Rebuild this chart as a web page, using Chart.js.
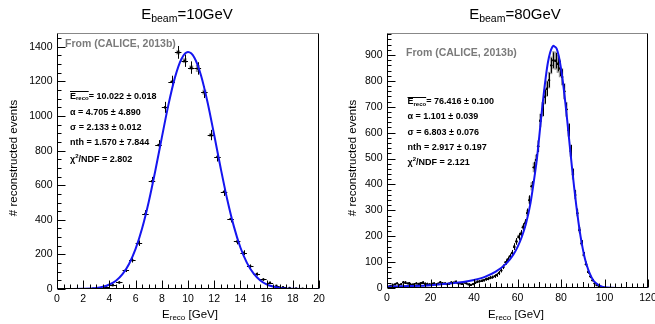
<!DOCTYPE html>
<html>
<head>
<meta charset="utf-8">
<script src="https://cdn.jsdelivr.net/npm/chart.js@4.4.1/dist/chart.umd.min.js"></script>
<style>
  html, body { margin: 0; padding: 0; background: #fff; }
  #wrap { position: relative; width: 655px; height: 324px; overflow: hidden; }
  canvas { position: absolute; top: 0; }
  #c10 { left: 0; }
  #c80 { left: 327px; }
</style>
</head>
<body>
<div id="wrap">
  <canvas id="c10" width="327" height="324"></canvas>
  <canvas id="c80" width="328" height="324"></canvas>
</div>
<script>
// ---- 10 GeV panel ----
const leftCenters = [0.25,0.75,1.25,1.75,2.25,2.75,3.25,3.75,4.25,4.75,5.25,5.75,6.25,6.75,7.25,7.75,
  8.25,8.75,9.25,9.75,10.25,10.75,11.25,11.75,12.25,12.75,13.25,13.75,14.25,14.75,15.25,15.75,
  16.25,16.75,17.25,17.75,18.25,18.75,19.25,19.75];
const leftCounts = [0,0,0,0,0,1,3,10,22,38,108,166,265,435,623,832,
  1050,1198,1368,1320,1280,1275,1138,890,765,562,405,275,210,131,86,55,
  36,18,10,6,3,1,0,0];
const leftErrors = [0,0,0,0,0,1,2,3,5,6,10,13,16,21,25,29,
  32,35,37,36,36,36,34,30,28,24,20,17,14,11,9,7,
  6,4,3,2,2,1,0,0];
const leftSyst = [0,0,0,0,0,0,0,0,0,0,0,0,0,0,0,0,
  0,0,12,14,12,20,14,10,0,0,0,0,0,0,0,0,
  0,0,0,0,0,0,0,0];
const leftFitX = [0,1,2,3,3.5,4,4.5,5,5.5,6,6.5,7,7.5,8,8.5,9,9.5,10,10.5,11,11.5,12,12.5,13,13.5,
  14,14.5,15,15.5,16,16.5,17,18,19,20];
const leftFitY = [0,0.2,1.2,6,13,26,48,86,145,232,351,503,682,875,1063,1222,1330,1370,1336,1233,1077,
  890,697,516,362,240,151,90,51,27,14,6.5,1.2,0.2,0];
const leftXTicks = [0,2,4,6,8,10,12,14,16,18,20];
const leftYTicks = [0,200,400,600,800,1000,1200,1400];
const leftStats = ['= 10.022 \u00b1 0.018', '\u03b1 = 4.705 \u00b1 4.890', '\u03c3 = 2.133 \u00b1 0.012',
  'nth = 1.570 \u00b1 7.844', '/NDF = 2.802'];

// ---- 80 GeV panel ----
const rightCenters = [0.5,1.5,2.5,3.5,4.5,5.5,6.5,7.5,8.5,9.5,10.5,11.5,12.5,13.5,14.5,15.5,16.5,17.5,18.5,19.5,
  20.5,21.5,22.5,23.5,24.5,25.5,26.5,27.5,28.5,29.5,30.5,31.5,32.5,33.5,34.5,35.5,36.5,37.5,38.5,39.5,
  40.5,41.5,42.5,43.5,44.5,45.5,46.5,47.5,48.5,49.5,50.5,51.5,52.5,53.5,54.5,55.5,56.5,57.5,58.5,59.5,
  60.5,61.5,62.5,63.5,64.5,65.5,66.5,67.5,68.5,69.5,70.5,71.5,72.5,73.5,74.5,75.5,76.5,77.5,78.5,79.5,
  80.5,81.5,82.5,83.5,84.5,85.5,86.5,87.5,88.5,89.5,90.5,91.5,92.5,93.5,94.5,95.5,96.5,97.5,98.5,99.5];
const rightCounts = [5,8,10,14,18,12,15,22,21,18, 16,13,15,18,16,19,21,17,16,14,
  16,18,14,17,22,19,18,15,17,21, 20,24,19,18,16,22,18,14,12,15,
  20,24,26,28,30,34,36,40,42,46, 50,58,68,82,100,110,122,135,160,180,
  198,210,235,250,290,340,393,466,495,548, 647,690,739,770,803,860,880,878,866,848,
  816,760,690,610,530,440,360,290,225,172, 128,92,63,45,30,18,11,6,4,2];
const rightErrors = [2,3,3,4,4,3,4,5,5,4, 4,4,4,4,4,4,5,4,4,4,
  4,4,4,4,5,4,4,4,4,5, 4,5,4,4,4,5,4,4,3,4,
  4,5,5,5,5,6,6,6,6,7, 7,8,8,9,10,10,11,12,13,13,
  14,14,15,16,17,18,20,22,22,23, 25,26,27,28,28,29,30,30,29,29,
  29,28,26,25,23,21,19,17,15,13, 11,10,8,7,5,4,3,2,2,1];
const rightSyst = [0,0,0,0,0,0,0,0,0,0, 0,0,0,0,0,0,0,0,0,0,
  0,0,0,0,0,0,0,0,0,0, 0,0,0,0,0,0,0,0,0,0,
  0,0,0,0,0,0,0,0,0,0, 0,0,0,0,0,4,5,5,6,7,
  8,8,9,10,12,14,16,19,20,22, 26,28,30,31,32,34,35,35,35,34,
  33,31,28,25,23,21,17,13,11,8, 6,4,0,0,0,0,0,0,0,0];
const rightFitX = [0,10,20,30,35,40,45,50,55,58,60,62,64,66,68,69,70,71,72,73,74,75,76,76.5,77,78,79,80,
  81,82,83,84,85,86,87,88,89,90,91,92,93,94,95,96,98,100,103,110,120];
const rightFitY = [5,7.4,11,18,23,31,43,63,96,128,158,198,252,329,441,505,585,668,745,815,872,910,931,936,933,
  925,895,848,788,715,636,552,470,392,320,255,199,152,113,84,60,42,28,19,8,3,0.7,0,0];
const rightXTicks = [0,20,40,60,80,100,120];
const rightYTicks = [0,100,200,300,400,500,600,700,800,900];
const rightStats = ['= 76.416 \u00b1 0.100', '\u03b1 = 1.101 \u00b1 0.039', '\u03c3 = 6.803 \u00b1 0.076',
  'nth = 2.917 \u00b1 0.197', '/NDF = 2.121'];

const FONT = '"Liberation Sans", Arial, Helvetica, sans-serif';

function fnt(size, bold) {
  return (bold ? 'bold ' : '') + size + 'px ' + FONT;
}

// draw a run of text pieces (for sub/superscripts); returns start x and width
function rich(ctx, parts, x, y, align) {
  let w = 0;
  parts.forEach(p => { ctx.font = fnt(p.s, p.b); w += ctx.measureText(p.t).width; });
  let cx = align === 'center' ? x - w / 2 : x;
  const x0 = cx;
  parts.forEach(p => {
    ctx.font = fnt(p.s, p.b);
    ctx.fillText(p.t, cx, y + (p.dy || 0));
    cx += ctx.measureText(p.t).width;
  });
  return { x0, w };
}

function rootPlugin(cfg) {
  return {
    id: 'rootFrame',
    beforeDatasetsDraw(chart) {
      const { ctx, chartArea: a, scales: { x, y } } = chart;
      const hw = cfg.binWidth / 2;
      ctx.save();
      ctx.beginPath();
      ctx.rect(a.left, a.top, a.right - a.left, a.bottom - a.top);
      ctx.clip();
      // systematic boxes
      ctx.fillStyle = 'rgba(120,120,120,0.75)';
      cfg.centers.forEach((c, i) => {
        const s = cfg.syst[i];
        if (!s || !cfg.counts[i]) return;
        const x1 = x.getPixelForValue(c - hw * cfg.boxFrac), x2 = x.getPixelForValue(c + hw * cfg.boxFrac);
        const y1 = y.getPixelForValue(cfg.counts[i] + s), y2 = y.getPixelForValue(cfg.counts[i] - s);
        ctx.fillRect(x1, y1, x2 - x1, y2 - y1);
      });
      // error bars
      ctx.strokeStyle = '#000';
      ctx.lineWidth = 1;
      cfg.centers.forEach((c, i) => {
        const v = cfg.counts[i];
        if (!v) return;
        const px = Math.round(x.getPixelForValue(c)) + 0.5;
        const py = Math.round(y.getPixelForValue(v)) + 0.5;
        ctx.beginPath();
        ctx.moveTo(x.getPixelForValue(c - hw), py);
        ctx.lineTo(x.getPixelForValue(c + hw), py);
        ctx.moveTo(px, y.getPixelForValue(v - cfg.errors[i]));
        ctx.lineTo(px, y.getPixelForValue(v + cfg.errors[i]));
        ctx.stroke();
      });
      ctx.restore();
    },
    afterDraw(chart) {
      const { ctx, chartArea: a, scales: { x, y } } = chart;
      const L = Math.round(a.left) + 0.5, R = Math.round(a.right) - 0.5;
      const T = Math.round(a.top) + 0.5, B = Math.round(a.bottom) - 0.5;
      ctx.save();
      ctx.lineWidth = 1;
      // frame
      ctx.strokeStyle = '#888';
      ctx.beginPath(); ctx.moveTo(L, T); ctx.lineTo(R, T); ctx.stroke();
      ctx.strokeStyle = '#000';
      ctx.beginPath(); ctx.moveTo(R, T); ctx.lineTo(R, B); ctx.lineTo(L, B); ctx.lineTo(L, T); ctx.stroke();
      // ticks pointing inwards
      ctx.beginPath();
      for (let v = x.min; v <= x.max + 1e-9; v += cfg.xMinor) {
        const px = Math.round(x.getPixelForValue(v)) + 0.5;
        const major = cfg.xTicks.some(t => Math.abs(t - v) < 1e-6);
        const mid = !major && cfg.xMid && Math.abs(v / cfg.xMid - Math.round(v / cfg.xMid)) < 1e-6;
        ctx.moveTo(px, B); ctx.lineTo(px, B - (major ? 8 : mid ? 5.5 : 4));
      }
      for (let v = y.min; v <= y.max + 1e-9; v += cfg.yMinor) {
        const py = Math.round(y.getPixelForValue(v)) + 0.5;
        const major = cfg.yTicks.some(t => Math.abs(t - v) < 1e-6);
        ctx.moveTo(L, py); ctx.lineTo(L + (major ? 8 : 4), py);
      }
      ctx.stroke();
      // tick labels
      ctx.fillStyle = '#000';
      ctx.font = fnt(cfg.tickSize, false);
      ctx.textBaseline = 'middle';
      ctx.textAlign = 'center';
      cfg.xTicks.forEach(t => ctx.fillText(String(t), x.getPixelForValue(t), a.bottom + 10));
      ctx.textAlign = 'right';
      cfg.yTicks.forEach(t => ctx.fillText(String(t), a.left - 4.5, y.getPixelForValue(t)));
      ctx.textAlign = 'left';
      // title
      rich(ctx, [{ t: 'E', s: 15 }, { t: 'beam', s: 10.5, dy: 4.5 }, { t: cfg.titleTail, s: 15 }],
        cfg.titleX, 15, 'center');
      // x axis title
      rich(ctx, [{ t: 'E', s: 11.5 }, { t: 'reco', s: 8, dy: 3 }, { t: ' [GeV]', s: 11.5 }],
        cfg.xTitleX, 315, 'center');
      // y axis title
      ctx.save();
      ctx.translate(cfg.yTitleX, cfg.yTitleY);
      ctx.rotate(-Math.PI / 2);
      ctx.textAlign = 'center';
      ctx.font = fnt(11.5, false);
      ctx.fillText('# reconstructed events', 0, 0);
      ctx.restore();
      ctx.textAlign = 'left';
      // source note
      ctx.fillStyle = '#7a7a7a';
      ctx.font = fnt(10.5, true);
      ctx.fillText('From (CALICE, 2013b)', cfg.noteX, cfg.noteY);
      // fit results
      ctx.fillStyle = '#000';
      const sx = cfg.statX, sy = cfg.statY;
      const e = rich(ctx, [{ t: 'E', s: 9, b: true }, { t: 'reco', s: 6, b: true, dy: 2 }], sx, sy[0], 'left');
      ctx.beginPath();
      ctx.moveTo(e.x0, Math.round(sy[0] - 5.5) + 0.5);
      ctx.lineTo(e.x0 + e.w, Math.round(sy[0] - 5.5) + 0.5);
      ctx.stroke();
      ctx.font = fnt(9, true);
      ctx.fillText(cfg.stats[0], e.x0 + e.w, sy[0]);
      for (let i = 1; i < 4; i++) ctx.fillText(cfg.stats[i], sx, sy[i]);
      rich(ctx, [{ t: '\u03c7', s: 9, b: true }, { t: '2', s: 6, b: true, dy: -3 }, { t: cfg.stats[4], s: 9, b: true }],
        sx, sy[4], 'left');
      ctx.restore();
    }
  };
}

function makeChart(id, c) {
  const pts = [];
  c.centers.forEach((x, i) => { if (c.counts[i] > 0) pts.push({ x: x, y: c.counts[i] }); });
  const fit = c.fitX.map((x, i) => ({ x: x, y: c.fitY[i] }));
  return new Chart(document.getElementById(id), {
    type: 'scatter',
    data: {
      datasets: [
        {
          data: fit, showLine: true, borderColor: '#1515f0', borderWidth: 2,
          pointRadius: 0, cubicInterpolationMode: 'monotone', order: 0
        },
        {
          data: pts, pointRadius: c.dot, backgroundColor: '#000', borderWidth: 0, order: 1
        }
      ]
    },
    options: {
      responsive: false,
      animation: false,
      events: [],
      layout: { padding: c.padding },
      plugins: { legend: { display: false }, tooltip: { enabled: false } },
      scales: {
        x: { type: 'linear', display: false, min: c.xMin, max: c.xMax },
        y: { type: 'linear', display: false, min: 0, max: c.yMax }
      }
    },
    plugins: [rootPlugin(c)]
  });
}

makeChart('c10', {
  centers: leftCenters, counts: leftCounts, errors: leftErrors, syst: leftSyst, binWidth: 0.5, boxFrac: 0.6,
  fitX: leftFitX, fitY: leftFitY, xMin: 0, xMax: 20, yMax: 1480,
  xTicks: leftXTicks, yTicks: leftYTicks, xMinor: 0.5, xMid: null, yMinor: 50, tickSize: 10.5, dot: 1.3,
  padding: { left: 57, top: 33, right: 8, bottom: 35 },
  titleTail: '=10GeV', titleX: 187, xTitleX: 190, yTitleX: 14, yTitleY: 158,
  noteX: 65, noteY: 44.5, statX: 70, statY: [96.5, 112.5, 127.7, 142.7, 159.3], stats: leftStats
});

makeChart('c80', {
  centers: rightCenters, counts: rightCounts, errors: rightErrors, syst: rightSyst, binWidth: 1, boxFrac: 1,
  fitX: rightFitX, fitY: rightFitY, xMin: 0, xMax: 120, yMax: 985,
  xTicks: rightXTicks, yTicks: rightYTicks, xMinor: 2.5, xMid: 10, yMinor: 20, tickSize: 10.5, dot: 1.2,
  padding: { left: 60, top: 33, right: 7, bottom: 36 },
  titleTail: '=80GeV', titleX: 188, xTitleX: 189, yTitleX: 26, yTitleY: 158,
  noteX: 79, noteY: 52.7, statX: 80.5, statY: [102, 116.7, 132.3, 147.7, 162.7], stats: rightStats
});
</script>
</body>
</html>
